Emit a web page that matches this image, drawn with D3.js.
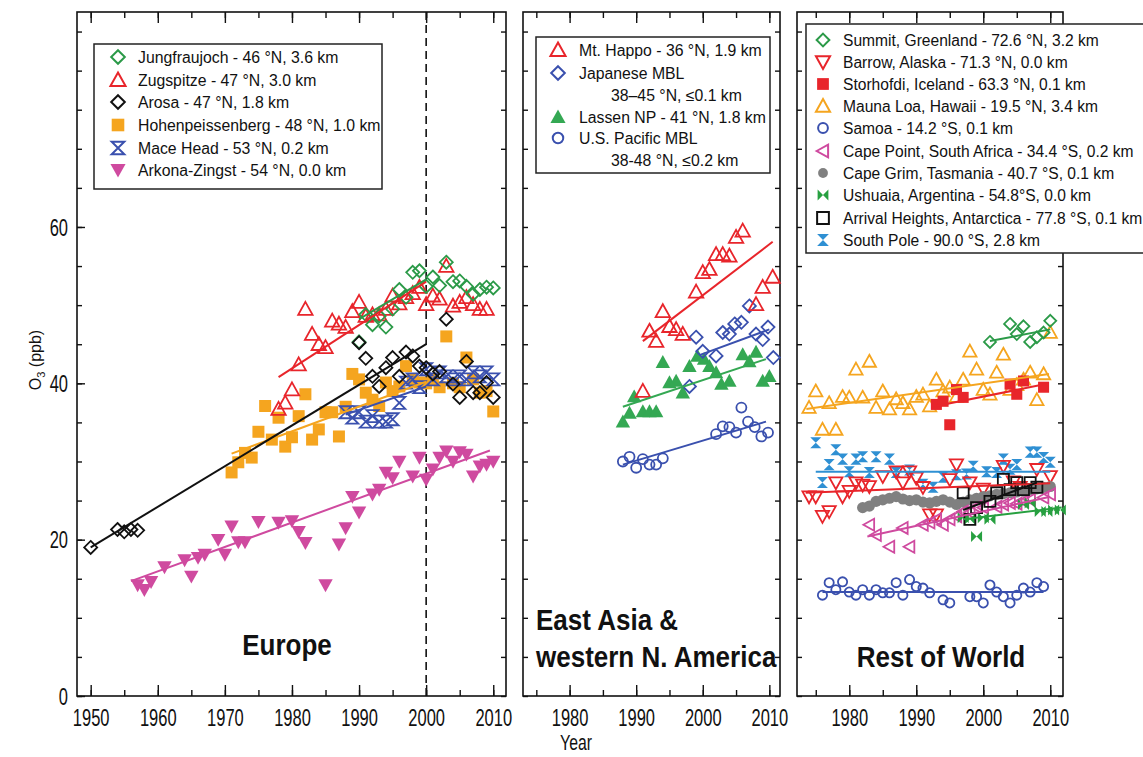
<!DOCTYPE html>
<html>
<head>
<meta charset="utf-8">
<script src="https://cdn.jsdelivr.net/npm/d3@7"></script>
<style>
  body { margin: 0; background: #fff; }
  svg { display: block; }
</style>
</head>
<body>
<svg id="chart" width="1143" height="757"></svg>
<script>
// ---------- Tick labels ----------
const yTicks = [0, 20, 40, 60];
const euYearTicks = [1950, 1960, 1970, 1980, 1990, 2000, 2010];
const eaYearTicks = [1980, 1990, 2000, 2010];
const rowYearTicks = [1980, 1990, 2000, 2010];

// ---------- Europe: annual mean O3 (ppb) as [year, value] ----------
const jungfraujoch = [[1990,45.3],[1991,48.8],[1992,47.5],[1993,48.6],[1994,47.2],[1995,49.5],[1996,52.0],[1997,51.0],[1998,54.2],[1999,54.4],[2000,52.4],[2001,53.6],[2002,52.5],[2003,55.5],[2004,53.0],[2005,53.1],[2006,52.4],[2007,51.4],[2008,52.0],[2009,52.3],[2010,52.2]];
const zugspitze = [[1978,36.7],[1979,37.5],[1980,39.2],[1981,42.4],[1982,49.5],[1983,46.3],[1984,45.0],[1985,44.6],[1986,48.0],[1987,47.6],[1988,47.2],[1989,49.2],[1990,50.4],[1991,48.6],[1992,48.8],[1993,48.8],[1994,49.5],[1995,51.2],[1996,50.2],[1997,51.0],[1998,51.5],[1999,52.3],[2000,50.1],[2001,51.2],[2002,50.8],[2003,55.0],[2004,49.9],[2005,50.4],[2006,51.0],[2007,50.1],[2008,49.5],[2009,49.5]];
const arosa = [[1950,19.0],[1954,21.3],[1955,21.0],[1956,21.3],[1957,21.2],[1990,45.2],[1991,43.2],[1992,40.9],[1993,39.6],[1994,42.0],[1995,43.3],[1996,40.9],[1997,44.0],[1998,43.5],[1999,42.2],[2000,42.0],[2001,41.2],[2002,41.5],[2003,48.2],[2004,39.9],[2005,38.2],[2006,42.8],[2007,38.8],[2008,38.8],[2009,40.1],[2010,38.2]];
const hohenpeissenberg = [[1971,28.6],[1972,29.9],[1973,31.1],[1974,30.5],[1975,33.8],[1976,37.1],[1977,32.8],[1978,35.6],[1979,31.9],[1980,33.1],[1981,35.8],[1982,38.6],[1983,32.8],[1984,34.1],[1985,36.3],[1986,36.3],[1987,33.2],[1988,37.0],[1989,41.2],[1990,40.5],[1991,38.8],[1992,37.9],[1993,37.1],[1994,40.1],[1995,39.0],[1996,39.6],[1997,42.2],[1998,40.5],[1999,40.1],[2000,40.0],[2001,40.5],[2002,39.5],[2003,46.0],[2004,40.0],[2005,39.5],[2006,43.3],[2007,40.5],[2008,38.8],[2009,39.0],[2010,36.4]];
const maceHead = [[1988,36.3],[1989,35.6],[1990,36.3],[1991,35.1],[1992,35.8],[1993,35.1],[1994,35.1],[1995,35.4],[1996,37.5],[1997,40.1],[1998,40.5],[1999,39.5],[2000,41.8],[2001,40.5],[2002,41.4],[2003,40.9],[2004,40.5],[2005,40.9],[2006,40.5],[2007,41.4],[2008,40.9],[2009,41.4],[2010,40.5]];
const arkonaZingst = [[1957,14.2],[1958,13.6],[1959,14.6],[1961,16.5],[1964,17.4],[1965,15.3],[1966,17.7],[1967,18.1],[1969,20.0],[1970,18.1],[1971,21.7],[1972,19.7],[1973,19.7],[1975,22.3],[1978,22.2],[1980,22.4],[1981,21.0],[1982,19.6],[1985,14.2],[1987,19.4],[1988,21.5],[1989,25.5],[1990,23.5],[1992,25.8],[1993,26.4],[1994,28.6],[1995,27.9],[1996,30.0],[1998,28.1],[1999,30.5],[2000,27.7],[2001,29.0],[2002,30.5],[2003,31.3],[2004,30.0],[2005,31.2],[2006,30.9],[2007,28.1],[2008,29.4],[2009,29.6],[2010,30.0]];

// Europe trend lines (fitted endpoints)
const trendJungfraujoch = [[1990,48.2],[2000,53.3]];
const trendZugspitze = [[1978,40.8],[2000,53.0]];
const trendArosa = [[1950,19.0],[2000,45.0]];
const trendHohenpeissenberg = [[1971,31.0],[2000,40.2]];
const trendMaceHead = [[1988,36.0],[2000,39.6]];
const trendArkona = [[1956,14.7],[2009.5,31.4]];

// ---------- East Asia & western N. America ----------
const mtHappo = [[1991,39.0],[1992,46.7],[1993,45.4],[1994,49.2],[1995,47.3],[1996,46.9],[1997,46.3],[1999,51.7],[2000,54.2],[2001,54.6],[2002,56.5],[2003,56.5],[2004,56.3],[2005,58.7],[2006,59.5],[2008,50.1],[2009,52.3],[2010.5,53.6]];
const japaneseMBL = [[1998,39.6],[1999,45.9],[2000,44.1],[2002,43.5],[2003,46.5],[2004,46.3],[2004.8,47.6],[2005.8,47.8],[2007,49.9],[2008,46.3],[2009,45.6],[2009.8,47.2],[2010.6,43.3]];
const lassenNP = [[1988,35.1],[1989,36.2],[1989.7,38.3],[1991,36.4],[1992,36.4],[1993,36.4],[1994,42.7],[1995,40.1],[1996,40.3],[1997,38.8],[1998,42.2],[1999.2,43.5],[2000.2,43.1],[2001,42.2],[2002,41.4],[2002.8,39.9],[2004,40.3],[2006,43.7],[2007,42.8],[2008,44.0],[2009,40.3],[2010,40.9]];
const usPacificMBL = [[1988,30.0],[1989,30.6],[1990,29.2],[1991,30.3],[1992,29.6],[1993,29.6],[1994,30.4],[2002,33.5],[2003,34.5],[2004,34.4],[2005,33.7],[2005.8,36.9],[2006.8,35.1],[2007.8,34.4],[2008.8,33.2],[2009.8,33.7]];

const trendMtHappo = [[1991,45.4],[2010.5,58.1]];
const trendJapaneseMBL = [[1999.5,43.6],[2010,46.9]];
const trendLassen = [[1988,37.0],[2009.5,43.1]];
const trendUSPacific = [[1988,29.6],[2009.5,35.1]];

// ---------- Rest of World ----------
const summit = [[2001,45.3],[2004,47.6],[2005,46.3],[2006,47.3],[2007,45.3],[2008,45.9],[2009,46.5],[2010,48.0]];
const barrow = [[1974,25.5],[1975,25.5],[1976,23.0],[1977,23.6],[1978,27.3],[1979,25.5],[1980,26.2],[1981,27.3],[1982,27.0],[1983,26.8],[1985,28.1],[1987,28.7],[1988,27.3],[1989,28.7],[1990,27.9],[1991,26.7],[1992,23.2],[1993,23.2],[1995,27.7],[1996,29.6],[1998,27.3],[2000,26.5],[2003,29.4],[2004.5,27.4],[2005.5,26.7],[2008,29.0],[2010,28.1]];
const storhofdi = [[1993,37.3],[1994,37.7],[1995,34.7],[1996,39.2],[1997,38.2],[2004,39.9],[2005,38.6],[2006,40.3],[2009,39.5]];
const maunaLoa = [[1974,36.9],[1975,39.0],[1976,34.1],[1977,37.5],[1978,34.1],[1979,38.3],[1980,38.2],[1981,41.8],[1982,38.2],[1983,42.8],[1984,36.9],[1985,39.0],[1986,36.7],[1987,38.0],[1988,37.5],[1989,36.7],[1990,38.3],[1991,38.6],[1992,37.1],[1993,40.5],[1994,39.0],[1995,39.5],[1996,38.3],[1997,40.5],[1998,44.1],[1999,41.8],[2000,39.2],[2001,38.6],[2002,41.4],[2003,43.7],[2004,39.2],[2005,39.8],[2006,40.5],[2007,41.4],[2008,37.9],[2009,41.2],[2010,46.5]];
const samoa = [[1976,12.9],[1977,14.5],[1978,13.6],[1979,14.6],[1980,13.3],[1981,12.9],[1982,13.6],[1983,12.9],[1984,13.6],[1985,13.2],[1986,13.2],[1987,14.5],[1988,12.9],[1989,14.9],[1990,14.0],[1991,13.8],[1992,13.2],[1994,12.3],[1995,11.9],[1998,12.7],[1999,12.7],[2000,11.9],[2001,14.2],[2002,13.3],[2003,12.7],[2004,11.9],[2005,12.9],[2006,13.8],[2007,13.3],[2008,14.5],[2009,14.0]];
const capePoint = [[1983,21.9],[1984,20.6],[1986,19.1],[1988,21.5],[1989,19.1],[1991,21.9],[1992,22.2],[1993,22.6],[1994,21.9],[1995,22.6],[1996,23.0],[1997,23.6],[1998,23.5],[1999,24.2],[2000,24.1],[2002,24.2],[2003,24.5],[2004,24.7],[2005,24.6],[2006,24.9],[2007,25.1],[2009,25.4],[2010,25.8]];
const capeGrim = [[1982,24.1],[1983,24.3],[1984,24.9],[1985,25.1],[1986,25.3],[1987,25.5],[1988,25.2],[1989,25.0],[1990,25.1],[1991,24.8],[1992,24.7],[1993,24.9],[1994,25.1],[1995,24.8],[1996,24.5],[1997,24.8],[1998,25.1],[1999,25.3],[2000,25.5],[2001,25.6],[2002,25.8],[2003,25.9],[2004,26.0],[2005,26.1],[2006,26.2],[2007,26.4],[2008,26.5],[2009,26.7],[2010,26.8]];
const ushuaia = [[1997,22.8],[1998,22.6],[1999,20.4],[2000,22.8],[2001,22.6],[2006,24.5],[2007,24.7],[2008.5,23.6],[2009.5,23.6],[2010.5,23.8],[2011.5,23.8]];
const arrivalHeights = [[1997,26.0],[1998,22.6],[1999,24.1],[2001,24.9],[2002,26.0],[2003,27.7],[2004,26.4],[2005,27.3],[2006,26.4],[2007,27.3],[2008,26.7]];
const southPole = [[1975,32.4],[1976,27.3],[1977,29.6],[1978,31.5],[1979,30.3],[1980,28.7],[1981,30.3],[1982,30.6],[1983,28.6],[1984,30.6],[1986,30.3],[1987,28.6],[1989,28.9],[1991,27.1],[1992.5,26.7],[1994,28.0],[1996,28.3],[1997.5,28.4],[1998.5,29.4],[2000.5,28.7],[2002,28.6],[2003,30.3],[2004,29.0],[2005,29.6],[2007,31.2],[2008,31.2],[2009,30.5],[2010,29.9]];

const trendSummit = [[2001,45.4],[2010,46.9]];
const trendBarrow = [[1973.5,26.0],[2010,27.2]];
const trendStorhofdi = [[1993,37.1],[2009.3,39.9]];
const trendMaunaLoa = [[1973.6,36.7],[2009.8,41.2]];
const trendSamoa = [[1976,13.3],[2009,13.3]];
const trendCapePoint = [[1982.7,20.4],[2010,25.5]];
const trendUshuaia = [[1997,22.6],[2011.7,24.1]];
const trendArrival = [[1997,23.8],[2008,27.3]];
const trendSouthPole = [[1975,28.7],[2010,28.7]];

// ---------- Styling ----------
const COL = {
  green: "#2b9a48", red: "#e8252b", black: "#111", orange: "#f5a51f",
  blue: "#3a50ae", magenta: "#cf4a9f", lgreen: "#34a853", gray: "#808080",
  lblue: "#2f90d3", ugreen: "#27a040"
};
const FONT = "'Liberation Sans', Arial, Helvetica, sans-serif";

function shape(type, s) {
  switch (type) {
    case "diamond": return `M0,${-s}L${s},0L0,${s}L${-s},0Z`;
    case "triUp": return `M0,${-s}L${s},${s*0.8}L${-s},${s*0.8}Z`;
    case "triDown": return `M0,${s}L${s},${-s*0.8}L${-s},${-s*0.8}Z`;
    case "triLeft": return `M${-s},0L${s*0.8},${-s}L${s*0.8},${s}Z`;
    case "square": return `M${-s},${-s}H${s}V${s}H${-s}Z`;
    case "circle": return `M${s},0A${s},${s} 0 1,1 ${-s},0A${s},${s} 0 1,1 ${s},0Z`;
    case "hourglass": return `M${-s},${-s}L${s},${-s}L${-s},${s}L${s},${s}Z`;
    case "bowtie": return `M${-s},${-s}L${s},${s}L${s},${-s}L${-s},${s}Z`;
  }
}
const BASE = { diamond: 6.5, triUp: 7.2, triDown: 7.2, triLeft: 6.5, square: 6, circle: 5, hourglass: 6, bowtie: 5.5 };

const svg = d3.select("#chart");
const yTop = 12, yBot = 696;
const y = d3.scaleLinear().domain([0, 87.5]).range([yBot, yTop]);

const panels = [
  { id: "eu", x0: 77, x1: 506, domain: [1947.96, 2011.9], ticks: euYearTicks, minorFrom: 1950, scale: 1.0,
    series: [
      { data: arkonaZingst, trend: trendArkona, shape: "triDown", color: COL.magenta, fill: true },
      { data: hohenpeissenberg, trend: trendHohenpeissenberg, shape: "square", color: COL.orange, fill: true },
      { data: maceHead, trend: trendMaceHead, shape: "hourglass", color: COL.blue, fill: false },
      { data: zugspitze, trend: trendZugspitze, shape: "triUp", color: COL.red, fill: false },
      { data: jungfraujoch, trend: trendJungfraujoch, shape: "diamond", color: COL.green, fill: false },
      { data: arosa, trend: trendArosa, shape: "diamond", color: COL.black, fill: false }
    ] },
  { id: "ea", x0: 523, x1: 780, domain: [1973.0, 2011.6], ticks: eaYearTicks, minorFrom: 1975, scale: 1.0,
    series: [
      { data: usPacificMBL, trend: trendUSPacific, shape: "circle", color: COL.blue, fill: false },
      { data: lassenNP, trend: trendLassen, shape: "triUp", color: COL.lgreen, fill: true },
      { data: japaneseMBL, trend: trendJapaneseMBL, shape: "diamond", color: COL.blue, fill: false },
      { data: mtHappo, trend: trendMtHappo, shape: "triUp", color: COL.red, fill: false }
    ] },
  { id: "row", x0: 797, x1: 1063, domain: [1972.2, 2011.9], ticks: rowYearTicks, minorFrom: 1975, scale: 0.92,
    series: [
      { data: samoa, trend: trendSamoa, shape: "circle", color: COL.blue, fill: false },
      { data: maunaLoa, trend: trendMaunaLoa, shape: "triUp", color: COL.orange, fill: false },
      { data: storhofdi, trend: trendStorhofdi, shape: "square", color: COL.red, fill: true },
      { data: summit, trend: trendSummit, shape: "diamond", color: COL.green, fill: false },
      { data: southPole, trend: trendSouthPole, shape: "hourglass", color: COL.lblue, fill: true },
      { data: barrow, trend: trendBarrow, shape: "triDown", color: COL.red, fill: false },
      { data: capeGrim, trend: null, shape: "circle", color: COL.gray, fill: true, size: 5.6 },
      { data: capePoint, trend: trendCapePoint, shape: "triLeft", color: COL.magenta, fill: false },
      { data: ushuaia, trend: trendUshuaia, shape: "bowtie", color: COL.ugreen, fill: true, size: 5.5 },
      { data: arrivalHeights, trend: trendArrival, shape: "square", color: COL.black, fill: false }
    ] }
];

const yMinor = d3.range(0, 90, 5);

panels.forEach(p => {
  const x = d3.scaleLinear().domain(p.domain).range([p.x0, p.x1]);
  const g = svg.append("g").attr("class", "panel-" + p.id);
  const minorYears = d3.range(p.minorFrom, p.domain[1], 5);

  // frame ticks on all four sides, pointing inward
  const addAxis = (axis, tf) => {
    const a = g.append("g").attr("transform", tf).call(axis);
    a.select(".domain").remove();
    a.selectAll(".tick line").attr("stroke", "#111").attr("stroke-width", 1.4);
    return a;
  };
  const bottom = addAxis(d3.axisBottom(x).tickValues(p.ticks).tickSize(-11).tickFormat(d3.format("d")), `translate(0,${yBot})`);
  bottom.selectAll("text")
    .attr("y", null).attr("dy", null)
    .attr("transform", "translate(0,30) scale(0.75,1.05)")
    .style("font-family", FONT).style("font-size", "22px").attr("fill", "#111");
  addAxis(d3.axisBottom(x).tickValues(minorYears).tickSize(-6).tickFormat(""), `translate(0,${yBot})`);
  addAxis(d3.axisTop(x).tickValues(p.ticks).tickSize(-11).tickFormat(""), `translate(0,${yTop})`);
  addAxis(d3.axisTop(x).tickValues(minorYears).tickSize(-6).tickFormat(""), `translate(0,${yTop})`);
  addAxis(d3.axisLeft(y).tickValues(yMinor).tickSize(-5).tickFormat(""), `translate(${p.x0},0)`);
  addAxis(d3.axisRight(y).tickValues(yMinor).tickSize(-5).tickFormat(""), `translate(${p.x1},0)`);
  if (p.id === "eu") {
    const left = addAxis(d3.axisLeft(y).tickValues(yTicks).tickSize(-8), `translate(${p.x0},0)`);
    left.selectAll("text")
      .attr("x", null).attr("dy", "0.36em")
      .attr("transform", "translate(-9,0) scale(0.75,1.05)")
      .style("font-family", FONT).style("font-size", "22px").attr("fill", "#111");
    // 2000 reference line
    g.append("line")
      .attr("x1", x(2000)).attr("x2", x(2000)).attr("y1", yTop).attr("y2", yBot)
      .attr("stroke", "#111").attr("stroke-width", 1.6).attr("stroke-dasharray", "8,5");
  }

  // frame
  g.append("rect")
    .attr("x", p.x0).attr("y", yTop).attr("width", p.x1 - p.x0).attr("height", yBot - yTop)
    .attr("fill", "none").attr("stroke", "#111").attr("stroke-width", 1.6);

  // markers
  p.series.forEach(s => {
    const size = s.size || BASE[s.shape] * p.scale;
    g.append("g").selectAll("path").data(s.data).join("path")
      .attr("transform", d => `translate(${x(d[0])},${y(d[1])})`)
      .attr("d", shape(s.shape, size))
      .attr("fill", s.fill ? s.color : "none")
      .attr("stroke", s.fill ? "none" : s.color)
      .attr("stroke-width", 1.8);
  });
  // trend lines
  const line = d3.line().x(d => x(d[0])).y(d => y(d[1]));
  p.series.forEach(s => {
    if (!s.trend) return;
    g.append("path").attr("d", line(s.trend))
      .attr("fill", "none").attr("stroke", s.color).attr("stroke-width", 2);
  });
});

// ---------- Region titles ----------
const titles = [
  { text: "Europe", x: 287, y: 655, anchor: "middle" },
  { text: "East Asia &", x: 536, y: 630, anchor: "start" },
  { text: "western N. America", x: 536, y: 667, anchor: "start" },
  { text: "Rest of World", x: 941, y: 667, anchor: "middle" }
];
svg.append("g").selectAll("text").data(titles).join("text")
  .attr("transform", d => `translate(${d.x},${d.y}) scale(1,1.1)`)
  .attr("text-anchor", d => d.anchor)
  .style("font-family", FONT).style("font-size", "26px").style("font-weight", "bold")
  .attr("fill", "#111").text(d => d.text);

// ---------- Axis titles ----------
svg.append("text").attr("transform", "translate(576,750) scale(0.75,1.05)")
  .attr("text-anchor", "middle").style("font-family", FONT).style("font-size", "21px")
  .attr("fill", "#111").text("Year");
const yl = svg.append("text").attr("transform", "translate(41,360) rotate(-90)")
  .attr("text-anchor", "middle").style("font-family", FONT).style("font-size", "16px").attr("fill", "#111");
yl.append("tspan").text("O");
yl.append("tspan").attr("dy", 4).style("font-size", "11px").text("3");
yl.append("tspan").attr("dy", -4).text(" (ppb)");

// ---------- Legends ----------
const euLegend = [
  { label: "Jungfraujoch - 46 °N, 3.6 km", shape: "diamond", color: COL.green, fill: false },
  { label: "Zugspitze - 47 °N, 3.0 km", shape: "triUp", color: COL.red, fill: false },
  { label: "Arosa - 47 °N, 1.8 km", shape: "diamond", color: COL.black, fill: false },
  { label: "Hohenpeissenberg - 48 °N, 1.0 km", shape: "square", color: COL.orange, fill: true },
  { label: "Mace Head - 53 °N, 0.2 km", shape: "hourglass", color: COL.blue, fill: false },
  { label: "Arkona-Zingst - 54 °N, 0.0 km", shape: "triDown", color: COL.magenta, fill: true }
];
const eaLegend = [
  { label: "Mt. Happo - 36 °N, 1.9 km", shape: "triUp", color: COL.red, fill: false },
  { label: "Japanese MBL", shape: "diamond", color: COL.blue, fill: false },
  { label: "38–45 °N, ≤0.1 km", shape: null, indent: true },
  { label: "Lassen NP - 41 °N, 1.8 km", shape: "triUp", color: COL.lgreen, fill: true },
  { label: "U.S. Pacific MBL", shape: "circle", color: COL.blue, fill: false },
  { label: "38-48 °N, ≤0.2 km", shape: null, indent: true }
];
const rowLegend = [
  { label: "Summit, Greenland - 72.6 °N, 3.2 km", shape: "diamond", color: COL.green, fill: false },
  { label: "Barrow, Alaska - 71.3 °N, 0.0 km", shape: "triDown", color: COL.red, fill: false },
  { label: "Storhofdi, Iceland - 63.3 °N, 0.1 km", shape: "square", color: COL.red, fill: true },
  { label: "Mauna Loa, Hawaii - 19.5 °N, 3.4 km", shape: "triUp", color: COL.orange, fill: false },
  { label: "Samoa - 14.2 °S, 0.1 km", shape: "circle", color: COL.blue, fill: false },
  { label: "Cape Point, South Africa - 34.4 °S, 0.2 km", shape: "triLeft", color: COL.magenta, fill: false },
  { label: "Cape Grim, Tasmania - 40.7 °S, 0.1 km", shape: "circle", color: COL.gray, fill: true },
  { label: "Ushuaia, Argentina - 54.8°S, 0.0 km", shape: "bowtie", color: COL.ugreen, fill: true },
  { label: "Arrival Heights, Antarctica - 77.8 °S, 0.1 km", shape: "square", color: COL.black, fill: false },
  { label: "South Pole - 90.0 °S, 2.8 km", shape: "hourglass", color: COL.lblue, fill: true }
];

function drawLegend(items, box, rows, mx, tx, ix, fontSize, mscale) {
  const g = svg.append("g");
  g.append("rect").attr("x", box[0]).attr("y", box[1]).attr("width", box[2]).attr("height", box[3])
    .attr("fill", "#fff").attr("stroke", "#222").attr("stroke-width", 1.5);
  items.forEach((it, i) => {
    const cy = rows[i];
    if (it.shape) {
      g.append("path").attr("transform", `translate(${mx},${cy})`)
        .attr("d", shape(it.shape, BASE[it.shape] * mscale))
        .attr("fill", it.fill ? it.color : "none")
        .attr("stroke", it.fill ? "none" : it.color).attr("stroke-width", 2);
    }
    g.append("text").attr("x", it.indent ? ix : tx).attr("y", cy).attr("dy", "0.36em")
      .style("font-family", FONT).style("font-size", fontSize + "px").attr("fill", "#111")
      .text(it.label);
  });
}
drawLegend(euLegend, [94, 44, 288, 145], [57, 80, 102, 125, 148, 170], 118, 138, 138, 15.8, 1.05);
drawLegend(eaLegend, [536, 37, 234, 136], [50, 73, 95, 117, 138, 160], 558, 579, 611, 15.8, 1.05);
drawLegend(rowLegend, [806, 24, 360, 229], [40, 62, 84, 106, 128, 151, 173, 195, 218, 240], 823, 843, 843, 15.6, 0.98);
</script>
</body>
</html>
